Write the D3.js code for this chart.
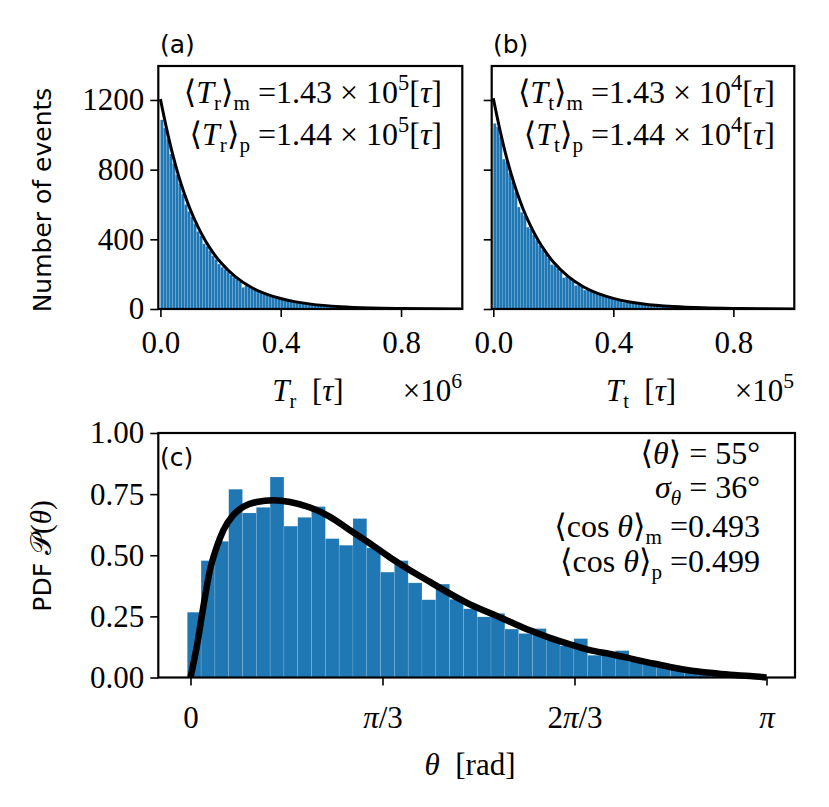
<!DOCTYPE html>
<html lang="en">
<head>
  <meta charset="UTF-8">
  <title>Event times and angle PDF</title>
  <style>
    * {box-sizing: border-box;}
    html, body { margin: 0; padding: 0; background: #fff; }
    text { white-space: pre; }
  </style>
</head>
<body>
  <svg id="chart"></svg>

  <script src="https://d3js.org/d3.v7.min.js"></script>
  <script>
    // ---- data ----
    // (a) T_r histogram, bin width 0.01 (x 1e6 tau), counts per bin
    const binWidthTop = 0.01
    const countsR = [
      1086, 1040, 975, 890, 835, 770, 720, 660, 600, 560,
      530, 490, 445, 420, 375, 360, 335, 305, 285, 258,
      240, 228, 212, 195, 182, 170, 158, 124, 135, 125,
      115, 108, 98, 92, 85, 80, 73, 68, 63, 58,
      54, 50, 46, 43, 40, 37, 34, 32, 29, 27,
      25, 23, 21, 20, 18, 17, 16, 15, 14, 13,
      12, 11, 10, 9, 9, 8, 7, 7, 6, 6,
      5, 5, 4, 4, 4, 3, 3, 3, 3, 2,
      2, 2, 2, 2, 1, 1, 1, 1, 1, 1,
      1, 1, 0, 1, 0, 0, 1, 0, 0, 0
    ]
    // (b) T_t histogram, bin width 0.01 (x 1e5 tau)
    const countsT = [
      1065, 1045, 990, 860, 845, 780, 730, 670, 585, 555,
      535, 470, 460, 425, 395, 365, 340, 315, 292, 255,
      250, 232, 215, 180, 185, 172, 160, 135, 138, 127,
      108, 110, 100, 94, 87, 81, 75, 70, 64, 60,
      55, 51, 47, 38, 41, 38, 35, 33, 30, 28,
      26, 24, 22, 21, 19, 18, 17, 15, 14, 13,
      12, 11, 10, 10, 9, 8, 8, 7, 6, 6,
      5, 5, 5, 4, 4, 3, 3, 3, 3, 2,
      2, 2, 2, 2, 1, 1, 1, 1, 1, 1,
      1, 1, 0, 1, 0, 0, 1, 0, 0, 0
    ]
    // fitted curves, points [x, count]
    const curveR = [
      [0, 1205], [0.02, 1040], [0.04, 893], [0.06, 767], [0.08, 660],
      [0.1, 568], [0.125, 471], [0.15, 390], [0.175, 323], [0.2, 268],
      [0.25, 184], [0.3, 126], [0.35, 87], [0.4, 60], [0.45, 41],
      [0.5, 28], [0.6, 13], [0.7, 6], [0.8, 3], [0.9, 1.5], [1.0, 0.7]
    ]
    const curveT = [
      [0, 1210], [0.02, 1045], [0.04, 898], [0.06, 772], [0.08, 664],
      [0.1, 571], [0.125, 474], [0.15, 393], [0.175, 326], [0.2, 270],
      [0.25, 186], [0.3, 128], [0.35, 88], [0.4, 61], [0.45, 42],
      [0.5, 29], [0.6, 14], [0.7, 6.5], [0.8, 3], [0.9, 1.5], [1.0, 0.7]
    ]
    const xTicksTop = [0, 0.4, 0.8]
    const yTicksTop = [0, 400, 800, 1200]

    // (c) theta histogram (density), 42 bins
    const thetaBinStart = -0.0175
    const thetaBinWidth = 0.0753
    const pdfTheta = [
      0.267, 0.478, 0.557, 0.770, 0.673, 0.696, 0.820, 0.619, 0.655, 0.699,
      0.568, 0.541, 0.650, 0.530, 0.431, 0.478, 0.387, 0.318, 0.382, 0.320,
      0.281, 0.248, 0.262, 0.198, 0.180, 0.200, 0.153, 0.130, 0.159, 0.091,
      0.100, 0.110, 0.064, 0.055, 0.046, 0.036, 0.027, 0.020, 0.014, 0.009,
      0.005, 0.002
    ]
    const curveTheta = [
      [0, 0], [0.034, 0.125], [0.070, 0.289], [0.106, 0.439], [0.143, 0.534],
      [0.179, 0.602], [0.233, 0.664], [0.288, 0.698], [0.361, 0.718], [0.452, 0.725],
      [0.543, 0.718], [0.652, 0.695], [0.761, 0.657], [0.870, 0.602], [0.979, 0.548],
      [1.088, 0.491], [1.197, 0.439], [1.306, 0.391], [1.415, 0.343], [1.524, 0.299],
      [1.633, 0.264], [1.742, 0.228], [1.851, 0.193], [1.960, 0.162], [2.069, 0.136],
      [2.178, 0.112], [2.288, 0.096], [2.397, 0.078], [2.506, 0.060], [2.615, 0.043],
      [2.724, 0.029], [2.833, 0.019], [2.942, 0.011], [3.051, 0.006], [3.1416, 0.0]
    ]
    const xTicksC = [0, Math.PI / 3, 2 * Math.PI / 3, Math.PI]
    const xTickLabelsC = [[['0']], [['π', 1], ['/3']], [['2'], ['π', 1], ['/3']], [['π', 1]]]
    const yTicksC = [0, 0.25, 0.5, 0.75, 1.0]

    // ---- drawing ----
    const serif = "'Liberation Serif', 'DejaVu Serif', 'DejaVu Sans', serif"
    const sans = "'DejaVu Sans', sans-serif"
    const blue = '#1f77b4'
    const tickFont = 31
    const noteFont = 32

    const svg = d3.select('#chart').attr('width', 829).attr('height', 807)

    // text with italic / sub / sup runs; parts: {t, it, sub, sup}
    function mathText (g, x, y, parts, size, anchor) {
      const t = g.append('text')
        .attr('x', x).attr('y', y)
        .attr('text-anchor', anchor || 'start')
        .style('font-family', serif)
        .style('font-size', size + 'px')
      let shift = 0
      parts.forEach(p => {
        let target = 0
        let fs = size
        if (p.sub) { target = size * 0.22; fs = size * 0.66 }
        if (p.sup) { target = -size * 0.42; fs = size * 0.7 }
        const s = t.append('tspan').text(p.t)
          .attr('dy', target - shift)
          .style('font-size', fs + 'px')
        if (p.it) s.style('font-style', 'italic')
        shift = target
      })
      return t
    }

    function histPanel (id, left, right, xDomain, counts, curve, showYLabels) {
      const top = 66, bottom = 309
      const x = d3.scaleLinear().domain(xDomain).range([left, right])
      const y = d3.scaleLinear().domain([0, 1395]).range([bottom, top])
      const g = svg.append('g')

      g.append('clipPath').attr('id', 'clip-' + id)
        .append('rect').attr('x', left).attr('y', top)
        .attr('width', right - left).attr('height', bottom - top)

      const plot = g.append('g').attr('clip-path', `url(#clip-${id})`)
      plot.selectAll('rect.bar')
        .data(counts)
        .join('rect')
        .attr('class', 'bar')
        .attr('x', (d, i) => x(i * binWidthTop))
        .attr('width', (d, i) => x((i + 1) * binWidthTop) - x(i * binWidthTop))
        .attr('y', d => y(d))
        .attr('height', d => bottom - y(d))
        .attr('fill', blue)
        .attr('stroke', 'rgba(255,255,255,0.18)')
        .attr('stroke-width', 0.5)

      plot.append('path')
        .datum(curve)
        .attr('fill', 'none')
        .attr('stroke', '#000')
        .attr('stroke-width', 3)
        .attr('d', d3.line().x(d => x(d[0])).y(d => y(d[1])).curve(d3.curveMonotoneX))

      const xAxis = g.append('g').attr('transform', `translate(0,${bottom})`)
        .call(d3.axisBottom(x).tickValues(xTicksTop).tickFormat(d3.format('.1f'))
          .tickSize(8).tickSizeOuter(0).tickPadding(14))
      const yAxis = g.append('g').attr('transform', `translate(${left},0)`)
        .call(d3.axisLeft(y).tickValues(yTicksTop)
          .tickFormat(showYLabels ? d3.format('d') : '')
          .tickSize(8).tickSizeOuter(0).tickPadding(6))
      ;[xAxis, yAxis].forEach(a => {
        a.select('.domain').remove()
        a.selectAll('line').attr('stroke', '#000').attr('stroke-width', 1.6)
        a.selectAll('text').style('font-family', serif).style('font-size', tickFont + 'px').attr('fill', '#000')
      })

      g.append('rect')
        .attr('x', left).attr('y', top)
        .attr('width', right - left).attr('height', bottom - top)
        .attr('fill', 'none').attr('stroke', '#000').attr('stroke-width', 2.2)
      return g
    }

    function meanLabel (g, xr, y, sym, kind, val, exp) {
      mathText(g, xr, y, [
        { t: '⟨' }, { t: 'T', it: 1 }, { t: sym, sub: 1 }, { t: '⟩' }, { t: kind, sub: 1 },
        { t: ' =' + val + ' × 10' }, { t: exp, sup: 1 }, { t: '[' }, { t: 'τ', it: 1 }, { t: ']' }
      ], noteFont, 'end')
    }

    // panel (a)
    const ga = histPanel('a', 158.3, 462.3, [-0.007, 1.0037], countsR, curveR, true)
    ga.append('text').attr('x', 160).attr('y', 53).text('(a)')
      .style('font-family', sans).style('font-size', '25px')
    meanLabel(ga, 442, 103, 'r', 'm', '1.43', '5')
    meanLabel(ga, 442, 145, 'r', 'p', '1.44', '5')
    mathText(ga, 308, 401, [
      { t: 'T', it: 1 }, { t: 'r', sub: 1 }, { t: '  [' }, { t: 'τ', it: 1 }, { t: ']' }
    ], 31, 'middle')
    mathText(ga, 462, 401, [{ t: '×10' }, { t: '6', sup: 1 }], 31, 'end')

    // panel (b)
    const gb = histPanel('b', 491.7, 794.3, [-0.0053, 1.003], countsT, curveT, false)
    gb.append('text').attr('x', 493).attr('y', 53).text('(b)')
      .style('font-family', sans).style('font-size', '25px')
    meanLabel(gb, 775, 103, 't', 'm', '1.43', '4')
    meanLabel(gb, 775, 145, 't', 'p', '1.44', '4')
    mathText(gb, 641, 401, [
      { t: 'T', it: 1 }, { t: 't', sub: 1 }, { t: '  [' }, { t: 'τ', it: 1 }, { t: ']' }
    ], 31, 'middle')
    mathText(gb, 794, 401, [{ t: '×10' }, { t: '5', sup: 1 }], 31, 'end')

    svg.append('text')
      .attr('transform', 'translate(51,200) rotate(-90)')
      .attr('text-anchor', 'middle')
      .style('font-family', sans).style('font-size', '25px')
      .text('Number of events')

    // panel (c)
    {
      const left = 158.3, right = 795, top = 433, bottom = 677.5
      const x = d3.scaleLinear().domain([-0.1756, 3.297]).range([left, right])
      const y = d3.scaleLinear().domain([0, 1]).range([bottom, top])
      const g = svg.append('g')

      g.selectAll('rect.bar')
        .data(pdfTheta)
        .join('rect')
        .attr('class', 'bar')
        .attr('x', (d, i) => x(thetaBinStart + i * thetaBinWidth))
        .attr('width', x(thetaBinWidth) - x(0))
        .attr('y', d => y(d))
        .attr('height', d => bottom - y(d))
        .attr('fill', blue)
        .attr('stroke', 'rgba(255,255,255,0.22)')
        .attr('stroke-width', 0.6)

      g.append('path')
        .datum(curveTheta)
        .attr('fill', 'none')
        .attr('stroke', '#000')
        .attr('stroke-width', 6.5)
        .attr('stroke-linecap', 'butt')
        .attr('d', d3.line().x(d => x(d[0])).y(d => y(d[1])).curve(d3.curveMonotoneX))

      const xAxis = g.append('g').attr('transform', `translate(0,${bottom})`)
        .call(d3.axisBottom(x).tickValues(xTicksC).tickFormat('')
          .tickSize(8).tickSizeOuter(0))
      xAxis.selectAll('.tick').each(function (d, i) {
        const t = d3.select(this).append('text')
          .attr('y', 50).attr('text-anchor', 'middle').attr('fill', '#000')
          .style('font-family', serif).style('font-size', tickFont + 'px')
        xTickLabelsC[i].forEach(p => {
          const s = t.append('tspan').text(p[0])
          if (p[1]) s.style('font-style', 'italic')
        })
      })
      const yAxis = g.append('g').attr('transform', `translate(${left},0)`)
        .call(d3.axisLeft(y).tickValues(yTicksC).tickFormat(d3.format('.2f'))
          .tickSize(8).tickSizeOuter(0).tickPadding(6))
      ;[xAxis, yAxis].forEach(a => {
        a.select('.domain').remove()
        a.selectAll('line').attr('stroke', '#000').attr('stroke-width', 1.6)
        a.selectAll('text').style('font-family', serif).style('font-size', tickFont + 'px').attr('fill', '#000')
      })

      g.append('rect')
        .attr('x', left).attr('y', top)
        .attr('width', right - left).attr('height', bottom - top)
        .attr('fill', 'none').attr('stroke', '#000').attr('stroke-width', 2.2)

      g.append('text').attr('x', 160).attr('y', 466).text('(c)')
        .style('font-family', sans).style('font-size', '25px')

      mathText(g, 760, 464, [{ t: '⟨' }, { t: 'θ', it: 1 }, { t: '⟩ = 55°' }], noteFont, 'end')
      mathText(g, 760, 498, [{ t: 'σ', it: 1 }, { t: 'θ', it: 1, sub: 1 }, { t: ' = 36°' }], noteFont, 'end')
      mathText(g, 760, 537, [
        { t: '⟨cos ' }, { t: 'θ', it: 1 }, { t: '⟩' }, { t: 'm', sub: 1 }, { t: ' =0.493' }
      ], noteFont, 'end')
      mathText(g, 760, 572, [
        { t: '⟨cos ' }, { t: 'θ', it: 1 }, { t: '⟩' }, { t: 'p', sub: 1 }, { t: ' =0.499' }
      ], noteFont, 'end')

      mathText(g, 470, 775, [{ t: 'θ', it: 1 }, { t: '  [rad]' }], 31, 'middle')

      const yl = svg.append('text')
        .attr('transform', 'translate(51,556) rotate(-90)')
        .attr('text-anchor', 'middle')
        .style('font-size', '25px')
      yl.append('tspan').text('PDF ').style('font-family', sans)
      yl.append('tspan').text('𝒫').style('font-family', serif).style('font-size', '29px')
      yl.append('tspan').text('(').style('font-family', serif).style('font-size', '29px')
      yl.append('tspan').text('θ').style('font-family', serif).style('font-style', 'italic').style('font-size', '29px')
      yl.append('tspan').text(')').style('font-family', serif).style('font-size', '29px')
    }
  </script>
</body>
</html>
